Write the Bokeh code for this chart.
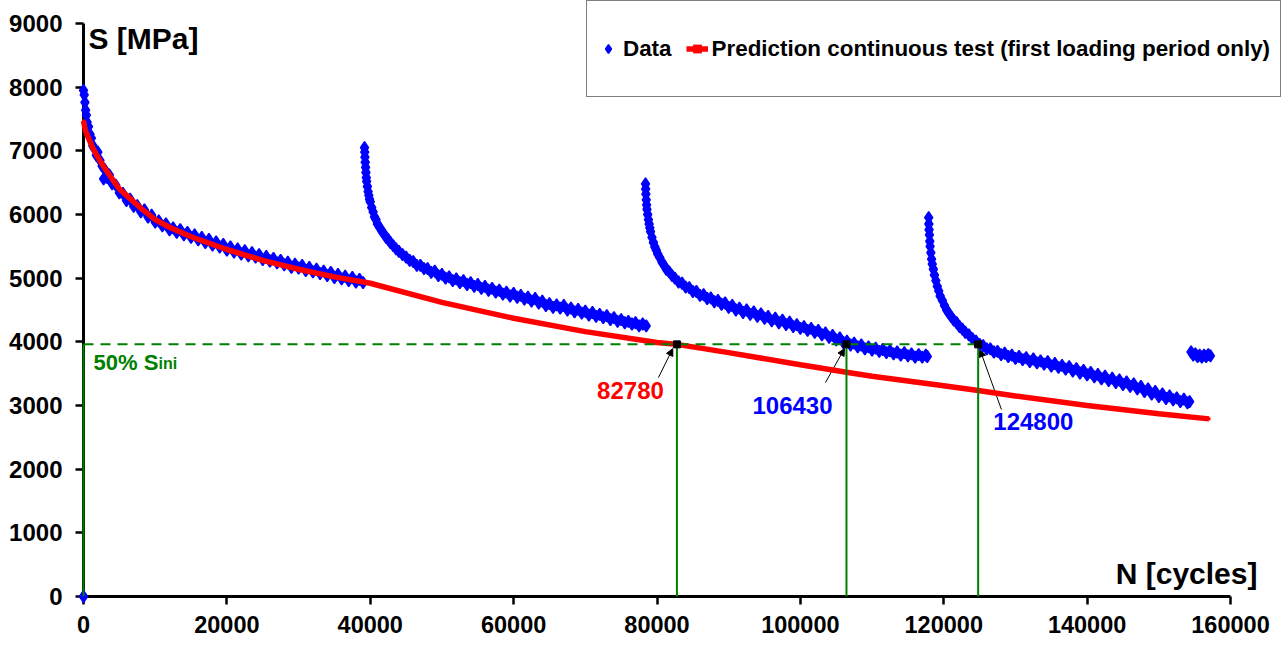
from bokeh.plotting import figure
from bokeh.models import (Range1d, FixedTicker, PrintfTickFormatter, Legend, LegendItem,
                          Label, Arrow, NormalHead)
from bokeh.embed import file_html
from bokeh.resources import INLINE

# ---------------- data ----------------
seg1_n = [0, 0, 100, 200, 300, 400, 500, 700, 900, 1100, 1300, 1500, 1800, 2000, 2300, 2600, 2800, 3000, 3300, 3600,
          4000, 4500, 5000, 5500, 6000, 6500, 7000, 7500, 8000, 8500, 9000, 9500, 10000, 10500, 11000, 11500,
          12000, 12500, 13000, 13500, 14000, 14500, 15000, 15500, 16000, 16500, 17000, 17500, 18000, 18500,
          19000, 19500, 20000, 20500, 21000, 21500, 22000, 22500, 23000, 23500, 24000, 24500, 25000, 25500,
          26000, 26500, 27000, 27500, 28000, 28500, 29000, 29500, 30000, 30500, 31000, 31500, 32000, 32500,
          33000, 33500, 34000, 34500, 35000, 35500, 36000, 36500, 37000, 37500, 38000, 38500, 39000]
seg1_s = [0, 7950, 7880, 7760, 7640, 7560, 7450, 7380, 7260, 7200, 7080, 7040, 6930, 6980, 6850, 6760, 6560, 6700, 6580, 6620,
          6480, 6460, 6340, 6330, 6220, 6240, 6130, 6140, 6040, 6070, 5960, 5990, 5880, 5900, 5820, 5850,
          5760, 5790, 5720, 5760, 5680, 5720, 5640, 5680, 5600, 5640, 5560, 5610, 5520, 5570,
          5490, 5530, 5440, 5490, 5410, 5460, 5380, 5430, 5350, 5400, 5330, 5370, 5290, 5340,
          5270, 5310, 5240, 5280, 5210, 5250, 5170, 5220, 5160, 5200, 5120, 5170, 5100, 5140,
          5070, 5110, 5040, 5090, 5010, 5060, 4990, 5030, 4960, 5010, 4940, 4980, 4930]

seg2_n = [39200, 39230, 39260, 39300, 39350, 39400, 39450, 39500, 39600, 39700, 39800, 39900, 40000, 40200, 40400,
          40600, 40800, 41000, 41300, 41600, 41900, 42200, 42500, 42800, 43200, 43600, 44000, 44500, 45000, 45500,
          46000, 46500, 47000, 47500, 48000, 48500, 49000, 49500, 50000, 50500, 51000, 51500, 52000, 52500, 53000,
          53500, 54000, 54500, 55000, 55500, 56000, 56500, 57000, 57500, 58000, 58500, 59000, 59500, 60000, 60500,
          61000, 61500, 62000, 62500, 63000, 63500, 64000, 64500, 65000, 65500, 66000, 66500, 67000, 67500, 68000,
          68500, 69000, 69500, 70000, 70500, 71000, 71500, 72000, 72500, 73000, 73500, 74000, 74500, 75000, 75500,
          76000, 76500, 77000, 77500, 78000, 78500]
seg2_s = [7050, 6980, 6900, 6820, 6740, 6660, 6580, 6520, 6440, 6360, 6300, 6240, 6200, 6110, 6040,
          5960, 5920, 5850, 5800, 5740, 5700, 5640, 5610, 5560, 5510, 5460, 5420, 5370, 5330, 5280,
          5260, 5200, 5200, 5150, 5150, 5090, 5110, 5040, 5060, 5000, 5020, 4960, 4990, 4930, 4960,
          4900, 4930, 4870, 4900, 4840, 4870, 4810, 4840, 4780, 4810, 4750, 4780, 4720, 4760, 4700,
          4730, 4670, 4700, 4640, 4680, 4610, 4640, 4570, 4600, 4540, 4580, 4530, 4570, 4500, 4530,
          4470, 4510, 4450, 4480, 4420, 4460, 4400, 4430, 4380, 4410, 4350, 4380, 4320, 4350, 4300,
          4320, 4280, 4300, 4250, 4280, 4250]

seg3_n = [78400, 78420, 78450, 78500, 78550, 78600, 78700, 78800, 78900, 79000, 79100, 79300, 79500, 79700, 79900,
          80100, 80400, 80700, 81000, 81300, 81700, 82100, 82500, 83000, 83500, 84000, 84500, 85000, 85500, 86000,
          86500, 87000, 87500, 88000, 88500, 89000, 89500, 90000, 90500, 91000, 91500, 92000, 92500, 93000, 93500,
          94000, 94500, 95000, 95500, 96000, 96500, 97000, 97500, 98000, 98500, 99000, 99500, 100000, 100500,
          101000, 101500, 102000, 102500, 103000, 103500, 104000, 104500, 105000, 105500, 106000, 106500, 107000,
          107500, 108000, 108500, 109000, 109500, 110000, 110500, 111000, 111500, 112000, 112500, 113000, 113500,
          114000, 114500, 115000, 115500, 116000, 116500, 117000, 117500, 117700]
seg3_s = [6480, 6400, 6320, 6230, 6150, 6080, 6000, 5920, 5850, 5790, 5730, 5640, 5560, 5490, 5440,
          5380, 5320, 5250, 5200, 5140, 5100, 5040, 5000, 4940, 4920, 4860, 4850, 4790, 4790, 4730,
          4740, 4680, 4690, 4630, 4650, 4590, 4610, 4540, 4570, 4500, 4530, 4460, 4500, 4430, 4470,
          4400, 4440, 4370, 4400, 4330, 4370, 4300, 4340, 4270, 4310, 4240, 4270, 4210, 4240,
          4180, 4210, 4150, 4180, 4110, 4140, 4070, 4100, 4030, 4060, 3990, 4010, 3950,
          3980, 3920, 3950, 3890, 3920, 3870, 3900, 3850, 3880, 3830, 3860, 3810, 3840,
          3790, 3830, 3780, 3810, 3760, 3800, 3760, 3790, 3770]

seg4_n = [117900, 117920, 117950, 118000, 118050, 118100, 118200, 118300, 118400, 118550, 118700, 118900, 119100,
          119300, 119500, 119800, 120100, 120400, 120700, 121000, 121400, 121800, 122200, 122600, 123000, 123500,
          124000, 124500, 125000, 125500, 126000, 126500, 127000, 127500, 128000, 128500, 129000, 129500, 130000,
          130500, 131000, 131500, 132000, 132500, 133000, 133500, 134000, 134500, 135000, 135500, 136000, 136500,
          137000, 137500, 138000, 138500, 139000, 139500, 140000, 140500, 141000, 141500, 142000, 142500, 143000,
          143500, 144000, 144500, 145000, 145500, 146000, 146500, 147000, 147500, 148000, 148500, 149000, 149500,
          150000, 150500, 151000, 151500, 152000, 152500, 153000, 153500, 154000, 154300]
seg4_s = [5950, 5850, 5760, 5680, 5580, 5500, 5400, 5300, 5220, 5140, 5050, 4960, 4870,
          4800, 4720, 4650, 4570, 4500, 4450, 4400, 4340, 4300, 4240, 4200, 4150, 4110,
          4050, 4010, 3960, 3940, 3890, 3890, 3840, 3850, 3800, 3820, 3770, 3790, 3740,
          3770, 3720, 3750, 3690, 3730, 3670, 3700, 3650, 3690, 3620, 3660, 3600, 3630,
          3570, 3610, 3540, 3580, 3510, 3550, 3480, 3520, 3450, 3490, 3420, 3460, 3390,
          3430, 3360, 3400, 3330, 3370, 3300, 3340, 3260, 3300, 3220, 3260, 3180, 3220,
          3140, 3180, 3110, 3150, 3090, 3120, 3060, 3100, 3040, 3060]

seg5_n = [154500, 154800, 155100, 155400, 155700, 156000, 156300, 156600, 156900, 157200]
seg5_s = [3840, 3790, 3810, 3770, 3790, 3760, 3790, 3770, 3800, 3780]

pred_n = [0, 250, 500, 1000, 1500, 2000, 3000, 4000, 5000, 6000, 8000, 10000, 12000, 15000, 20000, 25000, 30000,
          35000, 40000, 50000, 60000, 70000, 80000, 82780, 90000, 100000, 106430, 110000, 120000, 124800, 130000,
          140000, 150000, 157000]
pred_s = [7470, 7330, 7250, 7120, 7000, 6900, 6720, 6560, 6400, 6300, 6100, 5920, 5800, 5650, 5450, 5280, 5140,
          5020, 4920, 4620, 4370, 4160, 3990, 3960, 3830, 3640, 3523, 3460, 3310, 3235, 3150,
          3000, 2870, 2790]

s_half = 3960                       # 50 % of S_ini
cross_n = [82780, 106430, 124800]   # intersections with the 50 % level
cross_color = ["#FF0000", "#0000FF", "#0000FF"]
# label centres (data units) and arrow tails / tips
lab_n = [76300, 98900, 132500]
lab_s = [3234, 2998, 2747]
tail_n = [80200, 103500, 128050]
tail_s = [3438, 3360, 2936]
tip_n = [82200, 106150, 125050]
tip_s = [3893, 3893, 3877]

x_ticks = [0, 20000, 40000, 60000, 80000, 100000, 120000, 140000, 160000]
y_ticks = [0, 1000, 2000, 3000, 4000, 5000, 6000, 7000, 8000, 9000]

FONT = "Liberation Sans"
BLUE = "#0000FF"
RED = "#FF0000"
GREEN = "#008000"

data_n = seg1_n + seg2_n + seg3_n + seg4_n + seg5_n
data_s = seg1_s + seg2_s + seg3_s + seg4_s + seg5_s

# frame extends to the right / top edge of the canvas so that the legend and
# the axis title are not clipped; the axes themselves stop at 160000 / 9000
X_END = 167114
Y_END = 9361

p = figure(width=1281, height=646, output_backend="svg", toolbar_location=None,
           x_range=Range1d(0, X_END), y_range=Range1d(0, Y_END),
           min_border_left=83, min_border_right=0, min_border_top=0, min_border_bottom=50)
p.outline_line_color = None
p.xgrid.visible = False
p.ygrid.visible = False

for ax, ticks in ((p.xaxis[0], x_ticks), (p.yaxis[0], y_ticks)):
    ax.ticker = FixedTicker(ticks=ticks)
    ax.bounds = (ticks[0], ticks[-1])
    ax.formatter = PrintfTickFormatter(format="%d")
    ax.axis_line_width = 3
    ax.axis_line_color = "black"
    ax.major_tick_line_width = 2.5
    ax.major_tick_out = 8
    ax.major_tick_in = 0
    ax.minor_tick_line_color = None
    ax.major_label_text_font = FONT
    ax.major_label_text_font_style = "bold"
    ax.major_label_text_color = "black"
p.yaxis.major_label_text_font_size = "24px"
p.xaxis.major_label_text_font_size = "23.5px"
p.yaxis.major_label_standoff = 13
p.xaxis.major_label_standoff = 11

# data
data_r = p.scatter(data_n, data_s, marker="diamond", size=12, fill_color=BLUE, line_color=BLUE,
                   line_width=1.5, level="overlay")
# prediction
pred_line = p.line(pred_n, pred_s, line_color=RED, line_width=5.5, level="overlay")
pred_mark = p.scatter(pred_n, pred_s, marker="square", size=3, fill_color=RED, line_color=RED,
                      line_width=0, level="overlay")

# 50% level and the vertical lines
p.line([0, cross_n[-1]], [s_half, s_half], line_color=GREEN, line_width=2, line_dash="10 7", level="overlay")
p.segment(x0=[0] + cross_n, y0=[0] * 4, x1=[0] + cross_n, y1=[s_half] * 4,
          line_color=GREEN, line_width=2, level="overlay")
p.scatter(cross_n, [s_half] * 3, marker="square", size=7, fill_color="black", line_color="black", level="overlay")

for i, n in enumerate(cross_n):
    p.add_layout(Label(x=lab_n[i], y=lab_s[i], text=str(n), text_color=cross_color[i],
                       text_font=FONT, text_font_style="bold", text_font_size="24px",
                       text_align="center", text_baseline="middle"))
    p.add_layout(Arrow(end=NormalHead(size=7, fill_color="black", line_color="black"),
                       x_start=tail_n[i], y_start=tail_s[i], x_end=tip_n[i], y_end=tip_s[i],
                       line_color="black", line_width=1))

# 50% S_ini label
p.add_layout(Label(x=1400, y=3678, text="50% S", text_color=GREEN, text_font=FONT,
                   text_font_style="bold", text_font_size="22px", text_baseline="alphabetic"))
p.add_layout(Label(x=10460, y=3665, text="ini", text_color=GREEN, text_font=FONT,
                   text_font_style="bold", text_font_size="16px", text_baseline="alphabetic"))

# axis titles inside plot
p.add_layout(Label(x=700, y=8760, text="S [MPa]", text_color="black", text_font=FONT,
                   text_font_style="bold", text_font_size="30px", text_baseline="alphabetic"))
p.add_layout(Label(x=163760, y=361, text="N [cycles]", text_color="black", text_font=FONT,
                   text_font_style="bold", text_font_size="30px", text_baseline="alphabetic",
                   text_align="right"))

legend = Legend(items=[LegendItem(label="Data", renderers=[data_r]),
                       LegendItem(label="Prediction continuous test (first loading period only)",
                                  renderers=[pred_line, pred_mark])],
                orientation="horizontal", location=(503, 499),
                padding=10, margin=0, spacing=14, label_standoff=4,
                glyph_width=22, glyph_height=75, label_height=75,
                label_text_font=FONT, label_text_font_style="bold", label_text_font_size="22.4px",
                label_text_color="black",
                border_line_color="black", border_line_width=1, background_fill_alpha=1)
p.add_layout(legend)

open("out.html", "w").write(file_html(p, INLINE))
